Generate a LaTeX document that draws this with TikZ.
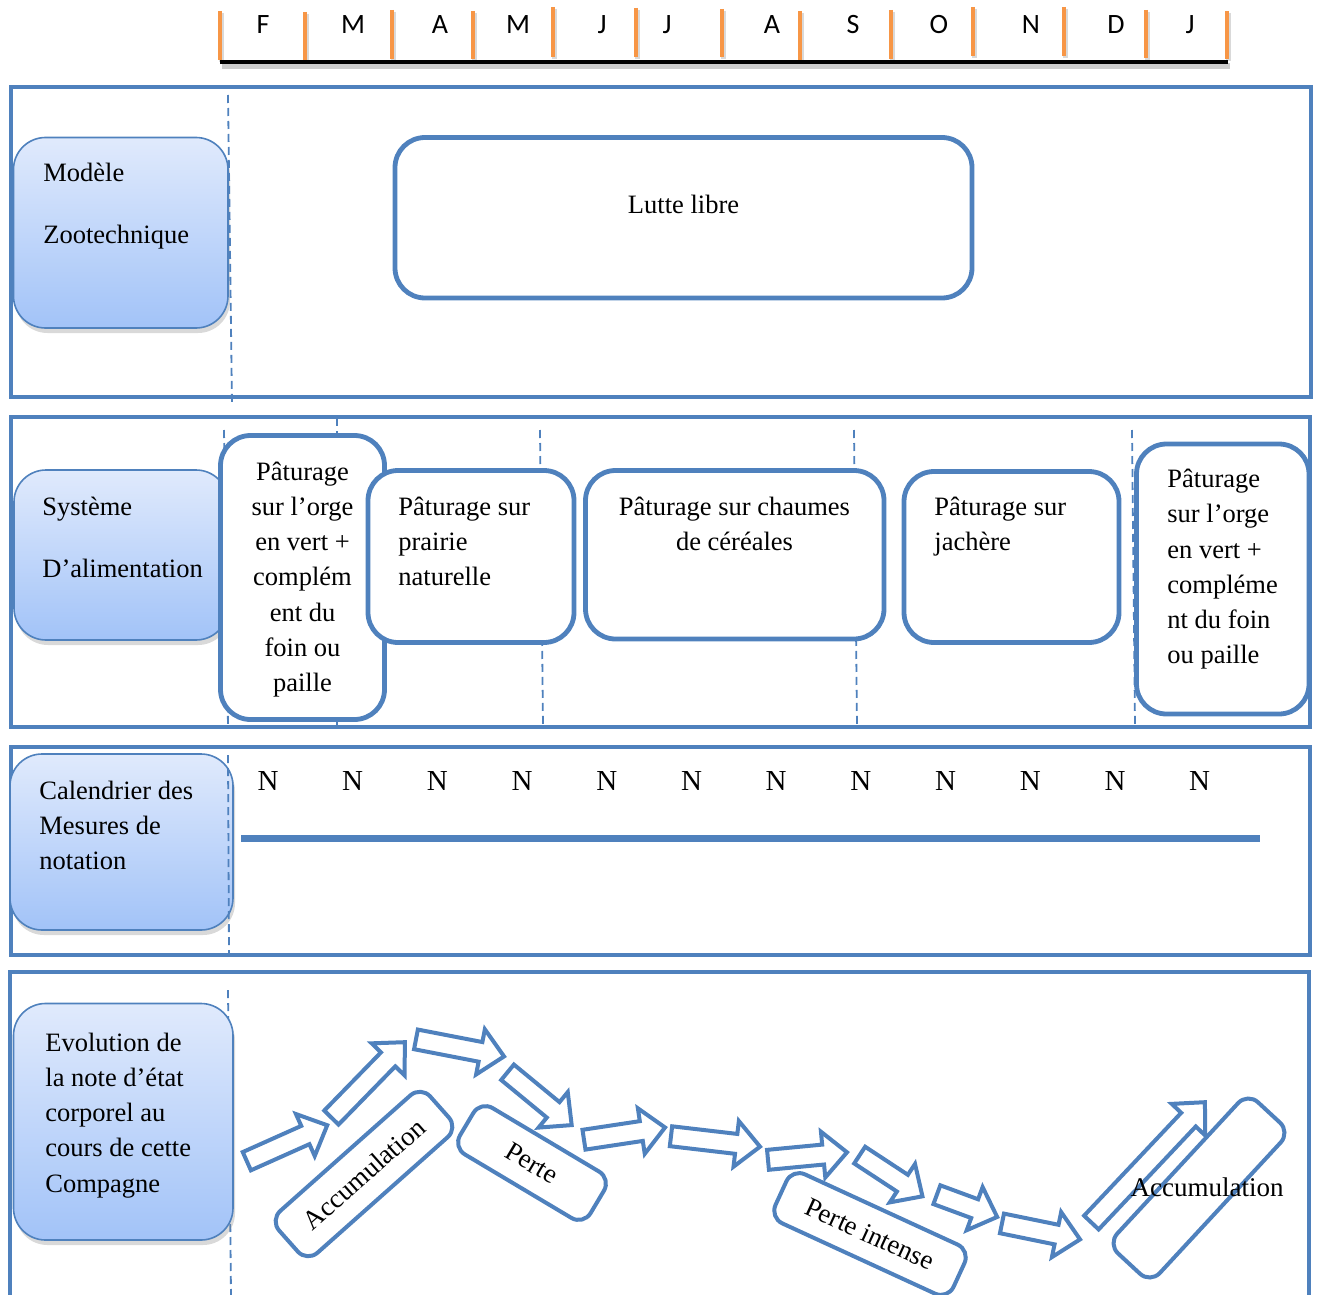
\documentclass[tikz,border=0pt]{standalone}
\usepackage{fontspec}
\setmainfont{Liberation Serif}
\newfontfamily\monthfont{Carlito}
\usetikzlibrary{shadows,calc}

\definecolor{frameblue}{RGB}{79,129,189}
\definecolor{tickorange}{RGB}{247,150,70}
\definecolor{gradtop}{RGB}{224,234,252}
\definecolor{gradbot}{RGB}{162,195,248}

\tikzset{
  bodytext/.style={font=\fontsize{13.25}{17.6}\selectfont, inner sep=0pt, text=black},
  notetext/.style={font=\fontsize{14.5}{17.6}\selectfont, inner sep=0pt, text=black},
  monthtext/.style={font=\monthfont\fontsize{14}{16}\selectfont, inner sep=0pt},
  rowframe/.style={draw=frameblue, line width=2pt},
  guide/.style={draw=frameblue, line width=0.9pt, dash pattern=on 4pt off 2.5pt},
  labelbox/.style={draw=frameblue, line width=0.8pt, rounded corners=16pt,
    top color=gradtop, bottom color=gradbot,
    drop shadow={opacity=0.3, shadow xshift=1pt, shadow yshift=-2.5pt},
    inner sep=0pt},
  stagebox/.style={draw=frameblue, line width=2.4pt, rounded corners=15pt,
    fill=white, inner sep=0pt},
  tagbox/.style={draw=frameblue, line width=2pt, rounded corners=7pt,
    fill=white, inner sep=0pt, font=\fontsize{13.5}{16}\selectfont},
  blockarrow/.style={draw=frameblue, line width=2pt, fill=white, line join=miter},
  monthtick/.style={draw=tickorange, line width=2.25pt},
  tickshade/.style={draw=black, opacity=0.15, line width=2.5pt},
}

% lines of text, one node per line, given by first baseline and spacing
\newcommand\textlines[5]{%
  \foreach \txt [count=\i from 0] in {#5}
    \node[bodytext, anchor=#2] (#1\i) at (#3, {#4+35.25*\i}) {\txt};}

% hollow block arrow from tail point to tip point
\newcommand\blockarrow[2]{%
  \path[blockarrow] let \p1=($#2-#1$), \n1={atan2(\y1,\x1)},
      \n2={veclen(\x1,\y1)-1.5pt}, \n3={\n2-12pt} in
    [shift={#1}, rotate=\n1]
    (1pt,-5pt) -- (\n3,-5pt) -- (\n3,-11.5pt) -- (\n2,0pt)
    -- (\n3,11.5pt) -- (\n3,5pt) -- (1pt,5pt) -- cycle;}

\begin{document}
\begin{tikzpicture}[x=0.5pt, y=-0.5pt]
\useasboundingbox (0,0) rectangle (1317,1295);
\clip (0,0) rectangle (1317,1295);

% ---- row frames
\draw[rowframe] (11,87) rectangle (1311,397);
\draw[rowframe] (11,417) rectangle (1310,727);
\draw[rowframe] (11,747) rectangle (1310,955);
\draw[rowframe] (9.5,972) rectangle (1309,1320);

% ---- month scale
\draw[black, opacity=0.2, line width=3pt] (222,66.5) -- (1230,66.5);
\foreach \x/\a/\b in {220/11/60, 305/12/60, 392/10/59, 473/11/59, 553/7/57,
    636/8/57, 722/9/57, 800/11/60, 891/10/59, 973/7/56, 1064/7/56,
    1146/10/58, 1227/11/59}{
  \draw[tickshade] (\x+1.5,\a+2) -- (\x+1.5,\b+2);
  \draw[monthtick] (\x,\a) -- (\x,\b);
}
\draw[black, line width=2.25pt] (220,62) -- (1228,62);
\foreach \x/\l [count=\i] in {263/F, 353/M, 440/A, 518/M, 602/J, 667/J,
    772/A, 853/S, 939/O, 1031/N, 1116/D, 1190/J}
  \node[monthtext, anchor=base] (month\i) at (\x,33.5) {\l};

% ---- guide under the last label
\draw[guide] (228,990) -- (231,1295);

% ---- row labels
\node[labelbox, minimum width=214.5*0.5pt, minimum height=190.5*0.5pt] (modele) at (120.75,232.75) {};
\node[bodytext, anchor=base west] (modeleA) at (43,182) {Modèle};
\node[bodytext, anchor=base west] (modeleB) at (43,243.5) {Zootechnique};

\node[labelbox, minimum width=214*0.5pt, minimum height=170*0.5pt] (systeme) at (121,555) {};
\node[bodytext, anchor=base west] (systemeA) at (42,515) {Système};
\node[bodytext, anchor=base west] (systemeB) at (42,577) {D’alimentation};

\node[labelbox, minimum width=223*0.5pt, minimum height=176*0.5pt] (calendrier) at (121.5,842) {};
\textlines{cal}{base west}{39}{799}{Calendrier des, Mesures de, notation}

\node[labelbox, minimum width=219.5*0.5pt, minimum height=236.5*0.5pt] (evolution) at (123.25,1121.75) {};
\textlines{evo}{base west}{45}{1051}{Evolution de, la note d’état, corporel au, cours de cette, Compagne}

% ---- month guides
\draw[guide] (228,95) -- (232,405);
\draw[guide] (224,430) -- (228,727);
\draw[guide] (337,418) -- (337,727);
\draw[guide] (540,430) -- (543,727);
\draw[guide] (854,430) -- (857,727);
\draw[guide] (1132,430) -- (1135,727);
\draw[guide] (228,755) -- (229,955);

% ---- breeding
\node[stagebox, minimum width=577*0.5pt, minimum height=160.5*0.5pt] (lutte) at (683.5,217.75) {};
\node[bodytext, anchor=base] (lutteT) at (683.5,213.5) {Lutte libre};

% ---- feeding periods
\node[stagebox, minimum width=164*0.5pt, minimum height=284*0.5pt] (orgeA) at (302.5,577.5) {};
\textlines{orgeAt}{base}{302.5}{480}{Pâturage, sur l’orge, en vert +, complém, ent du, foin ou, paille}

\node[stagebox, minimum width=206*0.5pt, minimum height=172*0.5pt] (prairie) at (471,556.5) {};
\textlines{prairiet}{base west}{398}{515}{Pâturage sur, prairie, naturelle}

\node[stagebox, minimum width=298.5*0.5pt, minimum height=168.5*0.5pt] (chaumes) at (734.75,554.75) {};
\textlines{chaumest}{base}{734.5}{515}{Pâturage sur chaumes, de céréales}

\node[stagebox, minimum width=215*0.5pt, minimum height=171*0.5pt] (jachere) at (1011.5,557) {};
\textlines{jacheret}{base west}{934}{515}{Pâturage sur, jachère}

\node[stagebox, minimum width=172.5*0.5pt, minimum height=270*0.5pt] (orgeB) at (1222.75,579) {};
\textlines{orgeBt}{base west}{1167}{487.5}{Pâturage, sur l’orge, en vert +, compléme, nt du foin, ou paille}

% ---- scoring calendar
\foreach \i in {0,...,11}
  \node[notetext, anchor=base] (note\i) at ({268+84.7*\i},790.5) {N};
\coordinate (axisL) at (241,838.5);
\coordinate (axisR) at (1260,838.5);
\draw[frameblue, line width=3.25pt] (axisL) -- (axisR);

% ---- body condition trend
\blockarrow{(245,1162)}{(330,1124)}
\blockarrow{(330,1119)}{(407,1040)}
\blockarrow{(414,1039)}{(507,1057)}
\blockarrow{(506,1071)}{(574,1127)}
\blockarrow{(582,1140)}{(668,1127)}
\blockarrow{(669,1136)}{(763,1147)}
\blockarrow{(766,1160)}{(850,1152)}
\blockarrow{(858,1154)}{(925,1198)}
\blockarrow{(935,1194)}{(1000,1218)}
\blockarrow{(1000,1223)}{(1083,1240)}
\blockarrow{(1090,1224)}{(1207,1100)}

\node[tagbox, rotate=41.6, minimum width=202*0.5pt, minimum height=56*0.5pt] (accA) at (364,1174) {Accumulation};
\node[tagbox, rotate=-30.8, minimum width=152*0.5pt, minimum height=54*0.5pt] (perte) at (532,1163) {Perte};
\node[tagbox, rotate=-24.7, minimum width=196*0.5pt, minimum height=54*0.5pt] (perteInt) at (870,1234) {Perte intense};
\node[tagbox, rotate=47.2, minimum width=206*0.5pt, minimum height=58*0.5pt] (accB) at (1199,1188) {};
\node[bodytext, font=\fontsize{13.5}{16}\selectfont] (accBt) at (1207,1187) {Accumulation};
\end{tikzpicture}
\end{document}
